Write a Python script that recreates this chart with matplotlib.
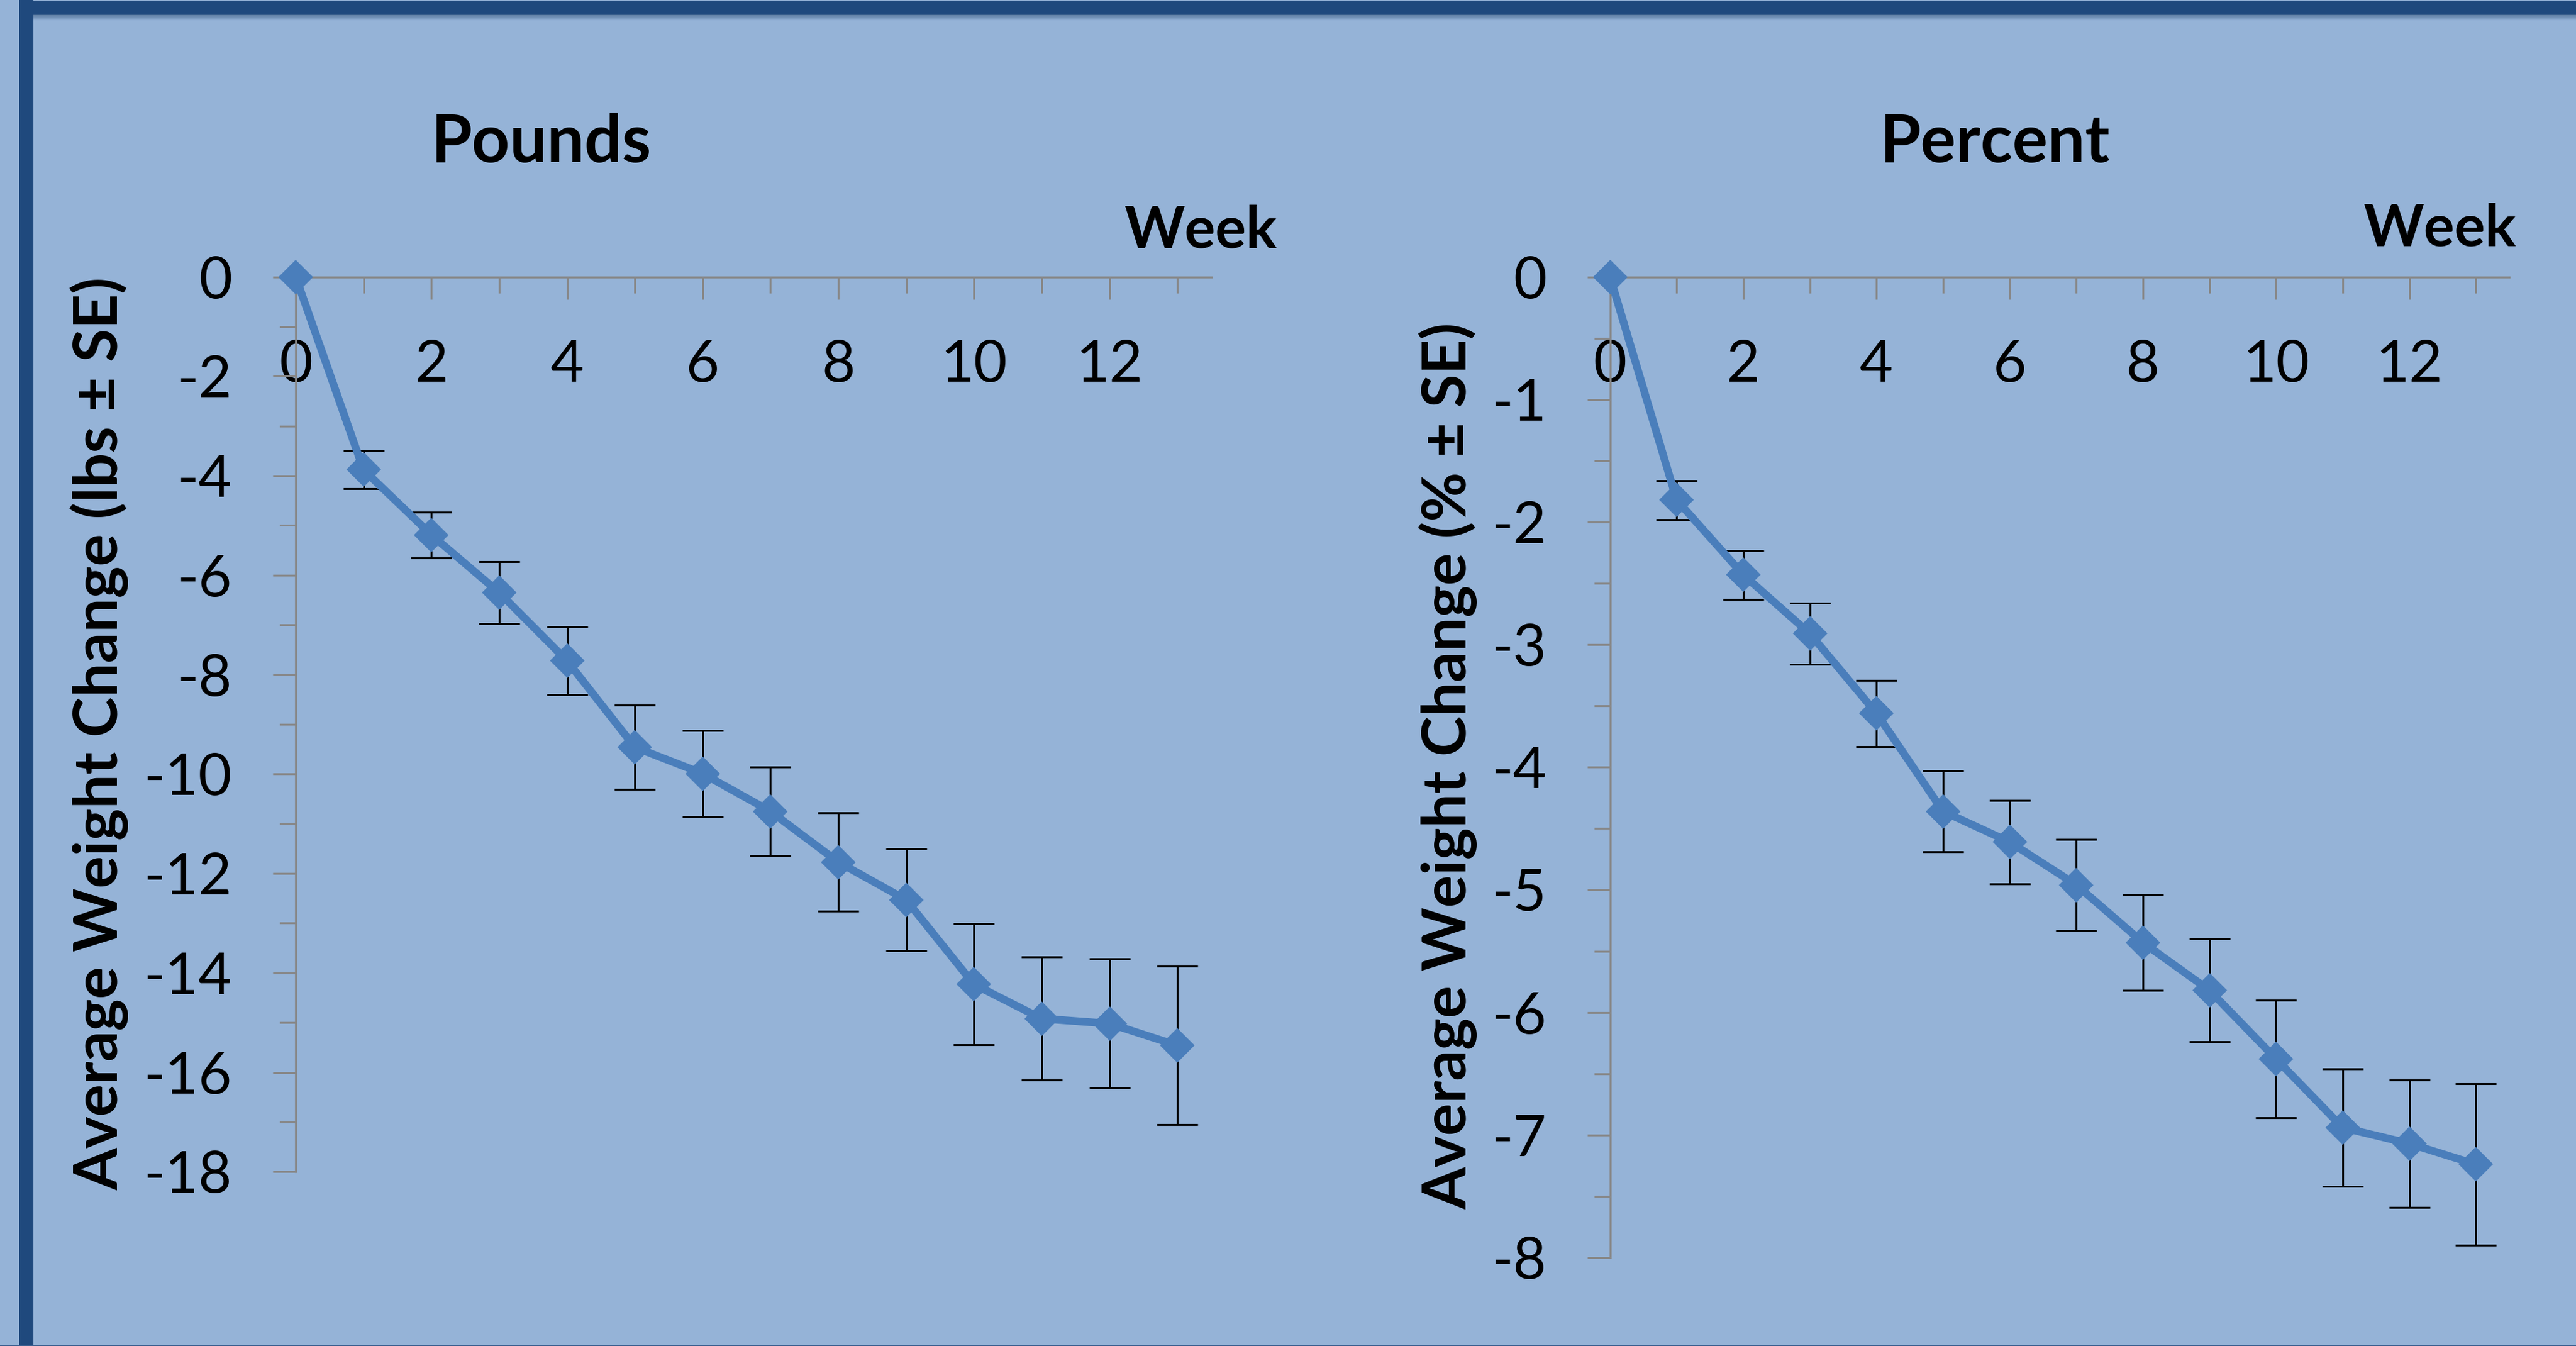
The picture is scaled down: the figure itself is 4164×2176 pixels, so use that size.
import numpy as np
import matplotlib
matplotlib.use("Agg")
import matplotlib.pyplot as plt
from matplotlib.patches import Rectangle
from matplotlib.ticker import MultipleLocator

# ---------------- data ----------------
weeks = [0, 1, 2, 3, 4, 5, 6, 7, 8, 9, 10, 11, 12, 13]
lbs_mean = [0, -3.88, -5.19, -6.35, -7.72, -9.46, -9.99, -10.75, -11.77, -12.53, -14.23, -14.92, -15.02, -15.46]
lbs_se = [0, 0.38, 0.46, 0.62, 0.68, 0.85, 0.86, 0.89, 0.99, 1.03, 1.22, 1.24, 1.30, 1.59]
pct_mean = [0, -1.82, -2.43, -2.91, -3.56, -4.36, -4.61, -4.96, -5.43, -5.82, -6.38, -6.94, -7.07, -7.24]
pct_se = [0, 0.16, 0.20, 0.25, 0.27, 0.33, 0.34, 0.37, 0.39, 0.42, 0.48, 0.48, 0.52, 0.66]

titles = ["Pounds", "Percent"]
ylabels = ["Average Weight Change (lbs \u00b1 SE)", "Average Weight Change (% \u00b1 SE)"]
xlabel = "Week"

# ---------------- style ----------------
plt.rcParams["font.family"] = ["Lato", "DejaVu Sans"]
plt.rcParams["axes.unicode_minus"] = False

W, H = 4164, 2176
DPI = 100
BG = "#95B3D7"
DARK = "#1F497D"
LINE = "#4A7EBB"
AXC = "#878787"

fig = plt.figure(figsize=(W / DPI, H / DPI), dpi=DPI, facecolor=BG)


def fr(x0, y0, x1, y1):
    """pixel box (top-left origin) -> figure fraction rect"""
    return (x0 / W, 1 - y1 / H, (x1 - x0) / W, (y1 - y0) / H)


# frame decorations
x, y, w, h = fr(31, 0, 54, H)
fig.add_artist(Rectangle((x, y), w, h, transform=fig.transFigure, color=DARK, lw=0))
x, y, w, h = fr(31, 1, W, 24)
fig.add_artist(Rectangle((x, y), w, h, transform=fig.transFigure, color=DARK, lw=0))
for i in range(9):
    x, y, w, h = fr(54, 24 + i, W, 25 + i)
    fig.add_artist(Rectangle((x, y), w, h, transform=fig.transFigure,
                             color="#2E4F78", alpha=0.55 * (1 - i / 9), lw=0))
x, y, w, h = fr(0, H - 2, W, H)
fig.add_artist(Rectangle((x, y), w, h, transform=fig.transFigure, color="#3A5F8F", lw=0))

# axes positions in pixels: (x0, ytop, x1, ybottom)
ax1 = fig.add_axes(fr(478, 447.6, 1958, 1894.3))
ax2 = fig.add_axes(fr(2602.6, 447.6, 4056, 2033))
ax1.patch.set_alpha(0)
ax2.patch.set_alpha(0)

configs = [
    (ax1, lbs_mean, lbs_se, (-18, 0), 2, 1, 0.2676, 1.1283, 0.9885, 1.0329, -0.1939, 0.4897),
    (ax2, pct_mean, pct_se, (-8, 0), 1, 0.5, 0.4279, 1.1171, 0.9229, 1.0319, -0.1594, 0.5015),
]

for i, (ax, mean, se, ylim, ymaj, ymin, tx, ty, wx, wy, lx, ly) in enumerate(configs):
    ax.errorbar(weeks[1:], mean[1:], yerr=se[1:], fmt="none", ecolor="black",
                elinewidth=2.2, capsize=24, capthick=2.2, zorder=2)
    ax.plot(weeks, mean, color=LINE, lw=9, marker="D", ms=29, mew=0,
            mfc=LINE, zorder=3, clip_on=False, solid_joinstyle="round")

    ax.set_xlim(0, 13.5)
    ax.set_ylim(*ylim)
    ax.xaxis.set_major_locator(MultipleLocator(2))
    ax.xaxis.set_minor_locator(MultipleLocator(1))
    ax.yaxis.set_major_locator(MultipleLocator(ymaj))
    ax.yaxis.set_minor_locator(MultipleLocator(ymin))

    for s in ("right", "bottom"):
        ax.spines[s].set_visible(False)
    for s in ("left", "top"):
        ax.spines[s].set_color(AXC)
        ax.spines[s].set_linewidth(2.4)

    ax.tick_params(axis="x", which="both", top=True, bottom=False,
                   labeltop=True, labelbottom=False, direction="in",
                   color=AXC, width=2.2, labelsize=67, labelcolor="black")
    ax.tick_params(axis="x", which="major", length=26, pad=-72.7)
    ax.tick_params(axis="x", which="minor", length=18.4)
    ax.tick_params(axis="y", which="both", left=True, right=False,
                   direction="out", color=AXC, width=2.2, labelsize=67,
                   labelcolor="black")
    ax.tick_params(axis="y", which="major", length=26.6, pad=47.5)
    ax.tick_params(axis="y", which="minor", length=19)

    for t in ax.xaxis.get_major_ticks():
        t.label2.set_va("top")

    ax.set_title(titles[i], x=tx, y=ty, pad=0, fontsize=77, fontweight="bold",
                 va="baseline")
    ax.set_xlabel(xlabel, fontsize=67, fontweight="bold", va="baseline")
    ax.xaxis.set_label_coords(wx, wy)
    ax.set_ylabel(ylabels[i], fontsize=70.5, fontweight="bold", va="baseline")
    ax.yaxis.set_label_coords(lx, ly)

fig.savefig("out.png", dpi=DPI, facecolor=BG)
